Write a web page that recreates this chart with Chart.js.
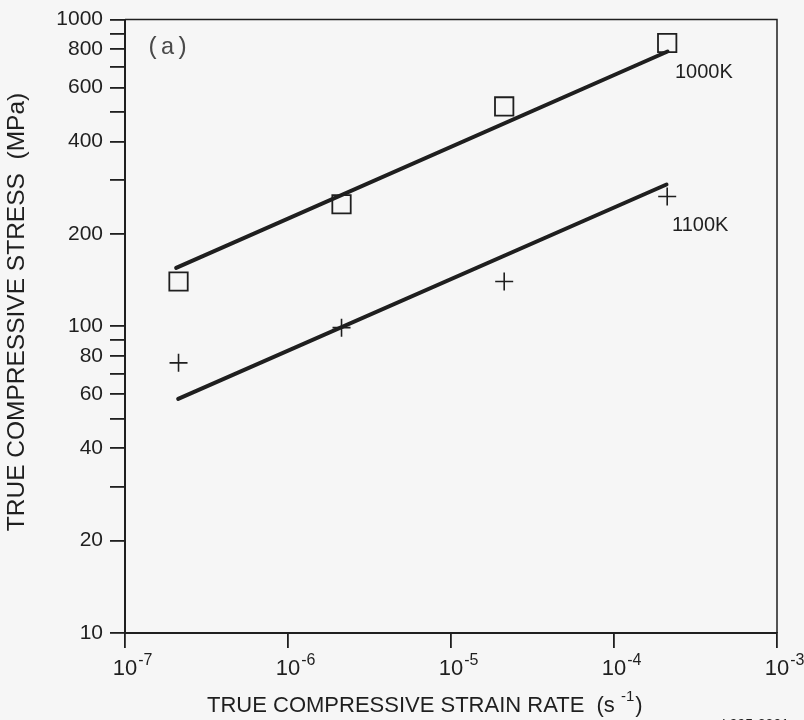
<!DOCTYPE html>
<html>
<head>
<meta charset="utf-8">
<script src="https://cdn.jsdelivr.net/npm/chart.js@4.4.1/dist/chart.umd.min.js"></script>
<style>
  html, body { margin: 0; padding: 0; background: #f6f6f6; }
  #wrap { width: 804px; height: 720px; }
</style>
</head>
<body>
<div id="wrap"><canvas id="stressChart" width="804" height="720"></canvas></div>
<script>
// data
const strainRates = [2.13e-7, 2.13e-6, 2.12e-5, 2.12e-4];
const stress1000K = [140, 250, 521, 839];
const stress1100K = [76, 99, 140, 265];
// fitted lines (end points)
const fitRates1000K = [2.06e-7, 2.13e-4];
const fitStress1000K = [155, 787];
const fitRates1100K = [2.12e-7, 2.10e-4];
const fitStress1100K = [58, 290];
// axes
const xTicks = [1e-7, 1e-6, 1e-5, 1e-4, 1e-3];
const xTickExponents = ['-7', '-6', '-5', '-4', '-3'];
const yTicks = [10, 20, 30, 40, 50, 60, 70, 80, 90, 100, 200, 300, 400, 500, 600, 700, 800, 900, 1000];
const yTickLabels = [10, 20, 40, 60, 80, 100, 200, 400, 600, 800, 1000];

const INK = '#1f1f1f';
const FONT = '"Liberation Sans", Arial, sans-serif';

function toPoints(xs, ys) {
    return xs.map((x, i) => ({ x: x, y: ys[i] }));
}

// frame, x tick labels with exponents, axis titles and notes
const decorations = {
    id: 'decorations',
    afterDraw(chart) {
        const ctx = chart.ctx;
        const area = chart.chartArea;
        const xs = chart.scales.x;
        ctx.save();
        ctx.strokeStyle = INK;
        ctx.fillStyle = INK;

        // top and right sides of the box
        ctx.lineWidth = 1.5;
        ctx.beginPath();
        ctx.moveTo(area.left, area.top);
        ctx.lineTo(area.right, area.top);
        ctx.lineTo(area.right, area.bottom);
        ctx.stroke();

        // x tick labels: 10^n
        xTicks.forEach((v, i) => {
            const px = xs.getPixelForValue(v);
            ctx.font = '22px ' + FONT;
            ctx.textAlign = 'center';
            ctx.textBaseline = 'alphabetic';
            ctx.fillText('10', px, 675);
            const w = ctx.measureText('10').width;
            ctx.font = '16px ' + FONT;
            ctx.textAlign = 'left';
            ctx.fillText(xTickExponents[i], px + w / 2 + 1, 665);
        });

        // x title
        ctx.font = '22px ' + FONT;
        ctx.textAlign = 'left';
        let tx = 207;
        const part1 = 'TRUE COMPRESSIVE STRAIN RATE  (s ';
        ctx.fillText(part1, tx, 712);
        tx += ctx.measureText(part1).width;
        ctx.font = '15px ' + FONT;
        ctx.fillText('-1', tx, 701);
        tx += ctx.measureText('-1').width + 1;
        ctx.font = '22px ' + FONT;
        ctx.fillText(')', tx, 712);

        // y title
        ctx.save();
        ctx.translate(17, 312);
        ctx.rotate(-Math.PI / 2);
        ctx.font = '24.5px ' + FONT;
        ctx.textAlign = 'center';
        ctx.textBaseline = 'middle';
        ctx.fillText('TRUE COMPRESSIVE STRESS  (MPa)', 0, 0);
        ctx.restore();

        // panel tag and series labels
        ctx.fillStyle = '#4a4a4a';
        ctx.font = '24px "Liberation Mono", "DejaVu Sans Mono", monospace';
        ctx.textAlign = 'left';
        ctx.textBaseline = 'middle';
        ctx.fillText('(a)', 146, 48);

        ctx.fillStyle = INK;
        ctx.font = '20px ' + FONT;
        ctx.fillText('1000K', 675, 72);
        ctx.fillText('1100K', 672, 225);

        // figure code, cut at the bottom edge
        ctx.font = '14px ' + FONT;
        ctx.textBaseline = 'alphabetic';
        ctx.fillText('L995-2301', 722, 729);
        ctx.restore();
    }
};

document.addEventListener('DOMContentLoaded', function() {
    const ctx = document.getElementById('stressChart').getContext('2d');

    const chart = new Chart(ctx, {
        type: 'scatter',
        data: {
            datasets: [
                {
                    label: '1000K',
                    data: toPoints(strainRates, stress1000K),
                    pointStyle: 'rect',
                    pointRadius: 13,
                    borderColor: INK,
                    borderWidth: 1.8,
                    backgroundColor: 'rgba(0,0,0,0)',
                    showLine: false
                },
                {
                    label: '1100K',
                    data: toPoints(strainRates, stress1100K),
                    pointStyle: 'cross',
                    pointRadius: 9,
                    borderColor: INK,
                    borderWidth: 1.6,
                    showLine: false
                },
                {
                    label: 'fit 1000K',
                    data: toPoints(fitRates1000K, fitStress1000K),
                    showLine: true,
                    pointRadius: 0,
                    borderColor: INK,
                    borderWidth: 4,
                    borderCapStyle: 'round'
                },
                {
                    label: 'fit 1100K',
                    data: toPoints(fitRates1100K, fitStress1100K),
                    showLine: true,
                    pointRadius: 0,
                    borderColor: INK,
                    borderWidth: 4,
                    borderCapStyle: 'round'
                }
            ]
        },
        options: {
            responsive: false,
            animation: false,
            layout: {
                padding: { left: 0, top: 18, right: 27, bottom: 0 }
            },
            plugins: {
                legend: { display: false },
                tooltip: { enabled: false }
            },
            scales: {
                x: {
                    type: 'logarithmic',
                    min: 1e-7,
                    max: 1e-3,
                    afterBuildTicks: scale => {
                        scale.ticks = xTicks.map(v => ({ value: v }));
                    },
                    afterFit: scale => { scale.height = 87; },
                    ticks: { display: false },
                    grid: {
                        drawOnChartArea: false,
                        drawTicks: true,
                        tickLength: 15,
                        color: INK,
                        lineWidth: 1.8
                    },
                    border: { display: true, color: INK, width: 2 }
                },
                y: {
                    type: 'logarithmic',
                    min: 10,
                    max: 1000,
                    afterBuildTicks: scale => {
                        scale.ticks = yTicks.map(v => ({ value: v }));
                    },
                    afterFit: scale => { scale.width = 125; },
                    ticks: {
                        autoSkip: false,
                        padding: 7,
                        color: INK,
                        font: { family: FONT, size: 21 },
                        callback: v => yTickLabels.includes(v) ? String(v) : ''
                    },
                    grid: {
                        drawOnChartArea: false,
                        drawTicks: true,
                        tickLength: 15,
                        color: INK,
                        lineWidth: 1.8
                    },
                    border: { display: true, color: INK, width: 2 }
                }
            }
        },
        plugins: [decorations]
    });
});
</script>
</body>
</html>
